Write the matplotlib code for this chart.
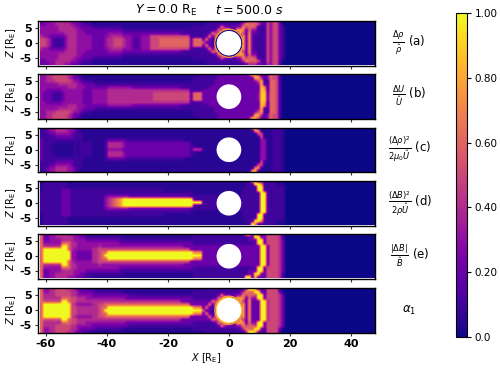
import numpy as np
import matplotlib
matplotlib.use('Agg')
import matplotlib.pyplot as plt
from matplotlib.patches import Circle

# cell levels, one string per row from z=0 to z=7 (mirrored for z<0)
# each char is one R_E wide, starting at x=-62, '.'=0.05, a=1.0, anything past x=18 is 0
panel_a = [
    '5543111134 4433333222 2344555433 2123335556 6666666662 6665221180 0000008272 1111535521',
    '5543111134 4433333222 2344555433 2123335556 6666666662 6662621380 0000008272 1111535521',
    '4332222234 4433333222 2334444333 2223335555 5555555551 1111262680 0000008272 1111535521',
    '3333333344 4433322222 2233333222 2222222222 2222221111 1111126558 0000085272 2111535521',
    '3333334444 4433222222 2222222111 1111111111 1111111111 1111111264 8800887263 3111535521',
    '3333334444 4332222111 1111111... .......... .......... 1111111126 3222337566 5111535521',
    '2233344444 3322111... .......... .......... .......... ....111111 1111124766 6521535520',
    '2223344433 2221111... .......... .......... .......... .....11111 1111111244 4221435510',
]
panel_b = [
    '3222111233 3333222333 3344444444 4444444555 5555555552 6662222222 2222222222 2399266510',
    '3222111233 3333222333 3344444444 4444444555 5555555552 6662222222 2222222222 2399266510',
    '3322222333 3333222333 3344444444 4444444444 4444444441 1112222222 2222222222 2298166510',
    '3333333334 4433322222 2233333333 2222222222 2222221111 1111122222 2222222222 2297166510',
    '3333334444 4433222211 1111111111 1111111111 1111111111 1111111222 2222222222 2381166510',
    '3344455555 4332111... .......... .......... .......... 1111111222 2222222222 3581166510',
    '3344555554 3221...... .......... .......... .......... 1111111122 2222222222 8841365510',
    '3344555554 3211...... .......... .......... .......... ..11111122 2222222238 8521365510',
]
panel_c = [
    '2111...... .1.1111... .133333222 2222222222 2222222221 4441...... .......... ..33..111.',
    '2111...... .1.1111... .144444322 2222222222 2222222221 1......... .......... ..33..111.',
    '21111..... .1.1111... .144444322 2222222222 2222222221 .......... .......... ..33..111.',
    '2111111111 1111...... .122222211 1111111111 1111111... .......... .......... ..33..111.',
    '1111122222 2111...... .......... .......... .......... .......... .......... ..5...111.',
    '1112233333 2111...... .......... .......... .......... .......... .......... .55...111.',
    '1123344443 321....... .......... .......... .......... .......... .......... 77....111.',
    '1123344443 321....... .......... .......... .......... .......... .........8 8.....111.',
]
panel_d = [
    '1111111222 1111111111 1345678aaa aaaaaaaaaa aaaaaaaaaa aaa1111111 1111111111 11aa111111',
    '1111111222 1111111111 1345678aaa aaaaaaaaaa aaaaaaaaaa 1111111111 1111111111 11aa111111',
    '1111111222 1111111111 1233333332 2222222222 2222222221 1111111111 1111111111 11aa111111',
    '1111111222 1111111111 1111111111 1111111111 1111111111 .......... ......1111 11aa111111',
    '.111111222 1111111111 1111111111 1111111111 .......... .......... ......1111 1aa1111111',
    '.11111111. .......... .......... .......... .......... .......... .......111 1aa1111111',
    '.11111111. .......... .......... .......... .......... .......... .......111 aa71111...',
    '.11111111. .......... .......... .......... .......... .......... ........1a 7111111...',
]
panel_e = [
    '6aaaaaaaaa 3322222445 6aaaaaaaaa aaaaaaaaaa aaaaaaaaaa aaa2222222 2222222222 22aa255542',
    '6aaaaaaaaa 3322222445 66aaaaaaaa aaaaaaaaaa aaaaaaaaaa 7772222222 2222222222 22aa255542',
    '6aaaaaaaa6 4333333445 5555555555 5555555555 5555555552 2222222222 2222222222 22aa255542',
    '6444444aa6 4433333334 3333333333 3333333333 3333333222 2222222222 2222222222 22aa255542',
    '6333333666 4433333333 3333332222 2222222222 2222222222 1111111111 1111111111 2aa2555542',
    '6223333444 4333322222 2222221111 1111111111 1111111111 1111111111 1111111122 2aa2555542',
    '6223344444 4332211111 1111111... .......... .......... 1111111111 1111111122 aa22555541',
    '6223344443 3322111... .......... .......... .......... 1111111111 1111111aa2 8222555541',
]
panel_f = [
    '6aaaaaaaaa 5544444445 6aaaaaaaaa aaaaaaaaaa aaaaaaaaaa aaa5221180 0000008272 22aa455542',
    '6aaaaaaaaa 5544444445 66aaaaaaaa aaaaaaaaaa aaaaaaaaaa 7772621380 0000008272 22aa455542',
    '6aaaaaaaaa 5433333445 5666666666 6666666666 6666666662 2222262680 0000008272 22aa455542',
    '6555555aa6 5544444444 4444444444 4444444444 4444442222 2222226558 0000085272 22aa455542',
    '6444444666 5544433333 3333333322 2222222222 2222222222 1111111264 8800887263 3aa2555542',
    '6444455555 4433333222 2222222221 1111111111 1111111111 1111111126 3222337566 5aa2555542',
    '6334455555 4432222211 1111111... .......... .......... 1111111111 1111124766 aa21555520',
    '6334455554 4322111... .......... .......... .......... ....111111 11111114aa 8221555510',
]
panels = [panel_a, panel_b, panel_c, panel_d, panel_e, panel_f]

row_labels = [r'$\frac{\Delta\rho}{\hat{\rho}}$ (a)',
              r'$\frac{\Delta U}{\hat{U}}$ (b)',
              r'$\frac{(\Delta\rho)^2}{2\mu_0\hat{U}}$ (c)',
              r'$\frac{(\Delta B)^2}{2\rho\hat{U}}$ (d)',
              r'$\frac{|\Delta B|}{\hat{B}}$ (e)',
              r'$\alpha_1$']
label_x = [392, 392, 388, 388, 390, 402]
hole_r = [4.2, 4.05, 4.05, 4.05, 4.05, 4.2]
ring_r = [4.6, 0, 0, 0, 0, 4.6]
x_ticks = [-60, -40, -20, 0, 20, 40]
z_ticks = [-5, 0, 5]
cbar_ticks = [0.0, 0.2, 0.4, 0.6, 0.8, 1.0]
cbar_labels = ['0.0', '0.20', '0.40', '0.60', '0.80', '1.00']

def to_grid(rows):
    half = []
    for r in rows:
        r = r.replace(' ', '')
        assert len(r) == 80, r
        r = r.ljust(110, '0')
        half.append([0.05 if c == '.' else (1.0 if c == 'a' else int(c)/10) for c in r])
    half = np.array(half)
    return np.vstack([half[:0:-1], half])

W, H = 500, 368
fig = plt.figure(figsize=(W/100, H/100), dpi=100)
tops = [21, 74.4, 127.5, 181, 234, 288]
for i, rows in enumerate(panels):
    ax = fig.add_axes([38/W, 1-(tops[i]+44.5)/H, 337/W, 44.5/H])
    im = ax.imshow(to_grid(rows), cmap='plasma', vmin=0, vmax=1, origin='lower', aspect='auto',
                   extent=[-62, 48, -7.5, 7.5], interpolation='bilinear')
    if ring_r[i] > 0:
        ax.add_patch(Circle((0, 0), ring_r[i], fc='none', ec='#f89540', lw=1.0, zorder=2))
        ax.add_patch(Circle((0, 0), hole_r[i], fc='white', ec='#fdca26' if i == 5 else '#0d0887', lw=0.7, zorder=3))
    else:
        ax.add_patch(Circle((0, 0), hole_r[i], fc='white', ec='none', zorder=3))
    ax.set_xlim(-62.6, 47.9)
    ax.set_ylim(-7.3, 7.3)
    ax.set_xticks(x_ticks)
    ax.set_yticks(z_ticks)
    ax.set_yticklabels([str(t) for t in z_ticks], fontweight='bold', fontsize=8)
    ax.tick_params(length=2.5, width=0.8, pad=2, color='#333333')
    ax.set_ylabel(r'$Z$ [R$_\mathrm{E}$]', fontsize=7, labelpad=1)
    for s in ax.spines.values():
        s.set_linewidth(1.0)
    if i == 5:
        ax.set_xticklabels([str(t) for t in x_ticks], fontweight='bold', fontsize=8)
        ax.set_xlabel(r'$X$ [R$_\mathrm{E}$]', fontsize=7, labelpad=2)
    else:
        ax.set_xticklabels([])
    fig.text(label_x[i]/W, 1-(tops[i]+22)/H, row_labels[i], fontsize=8.5, va='center')

fig.text(135/W, 1-10/H, r'$Y=0.0$ R$_\mathrm{E}$', fontsize=9, va='center')
fig.text(215/W, 1-10/H, r'$t=500.0\ s$', fontsize=9, va='center')

cax = fig.add_axes([456/W, 1-337/H, 10.5/W, 324/H])
cb = fig.colorbar(im, cax=cax)
cb.set_ticks(cbar_ticks)
cb.set_ticklabels(cbar_labels)
cb.ax.tick_params(labelsize=7.5, length=3, width=0.8, pad=3)

fig.savefig('out.png', dpi=100)
